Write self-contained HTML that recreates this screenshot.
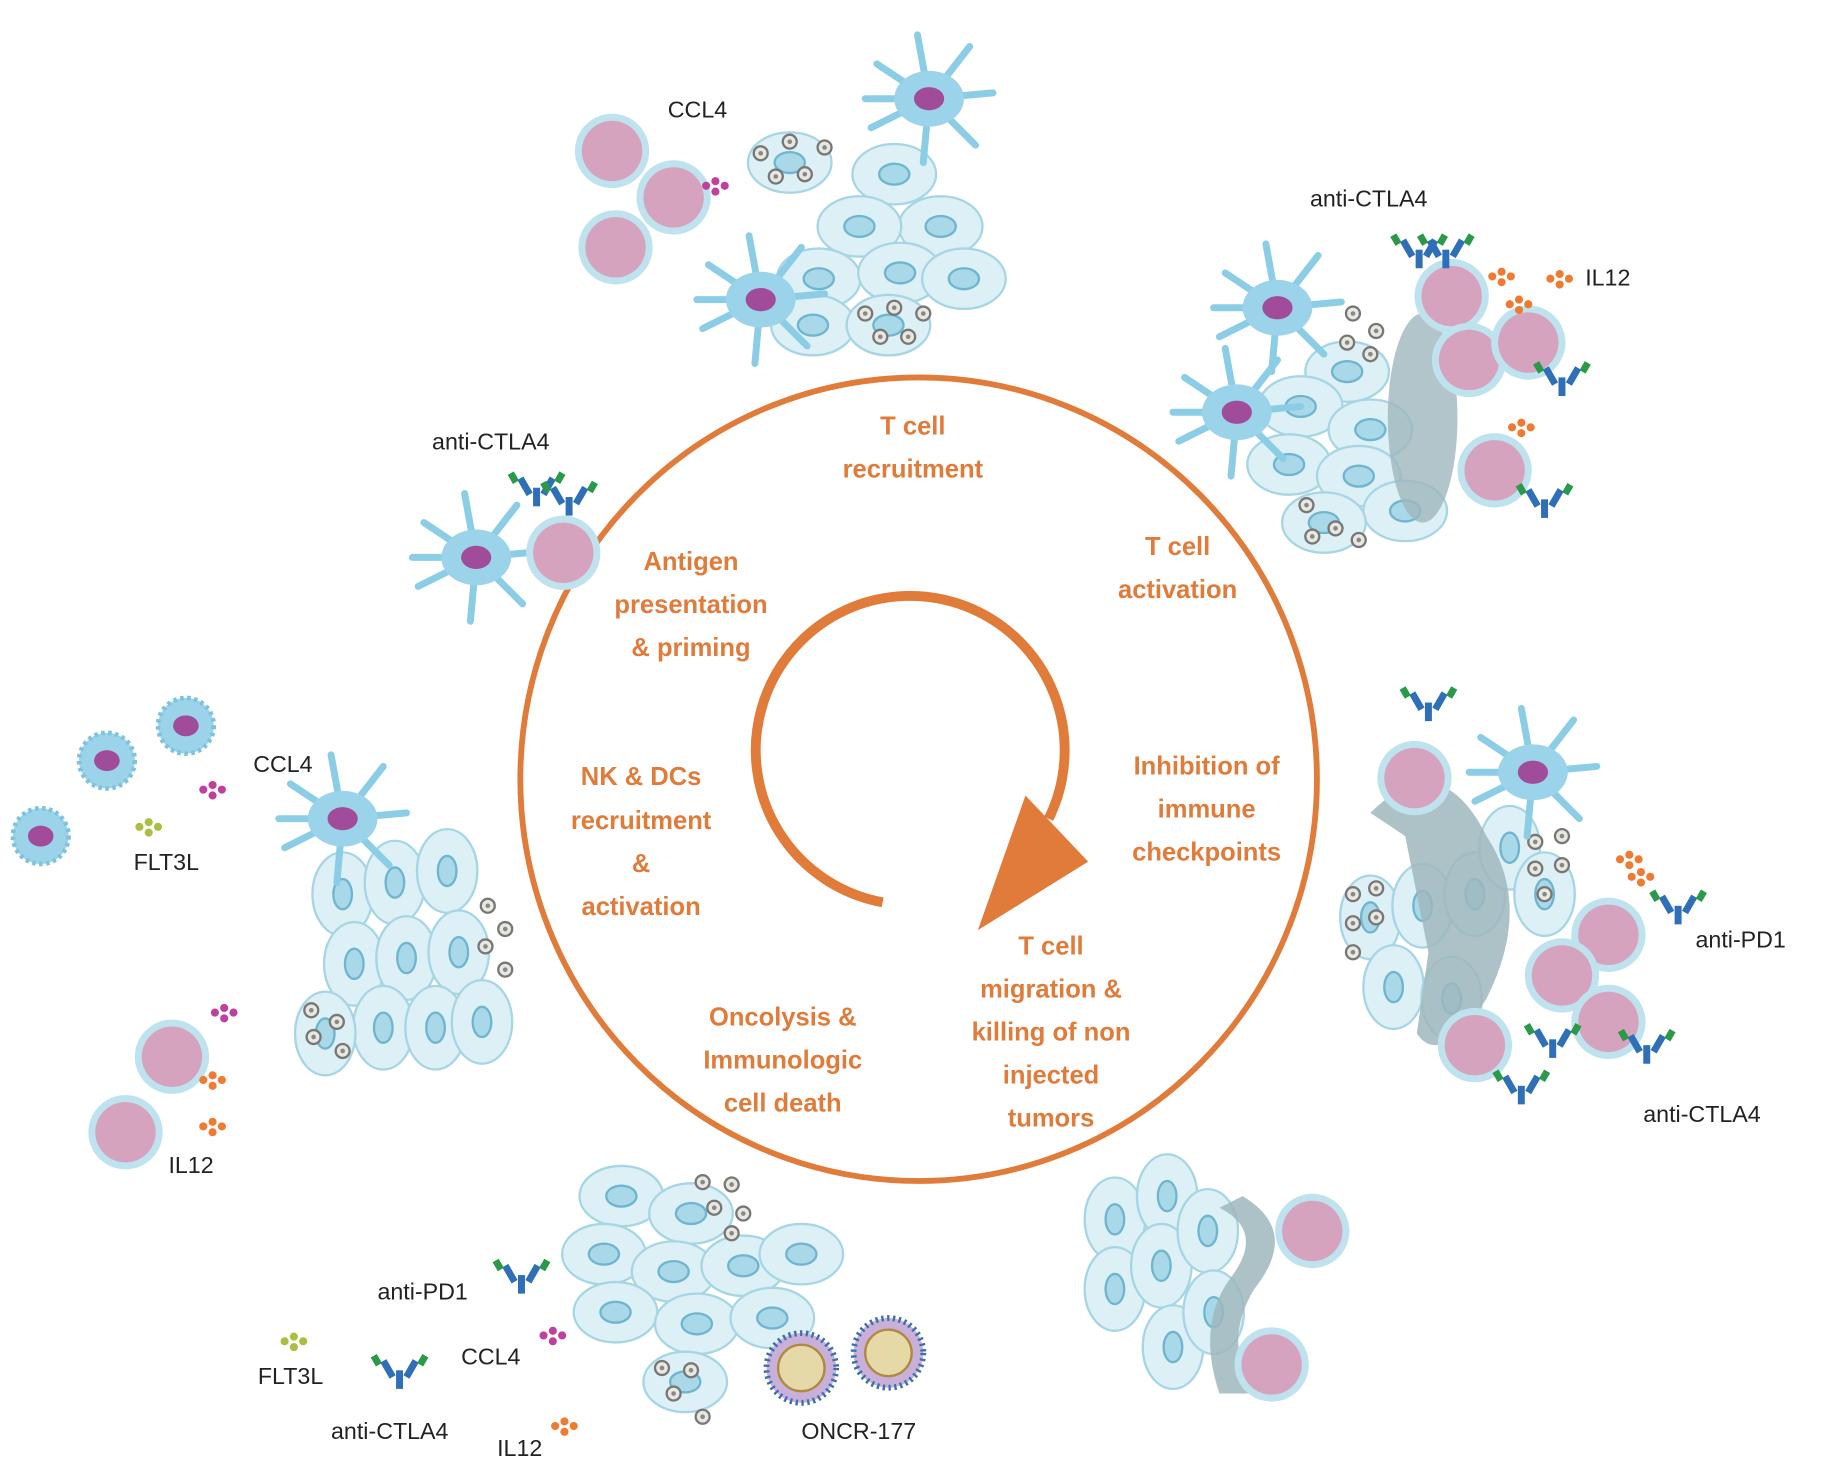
<!DOCTYPE html>
<html><head><meta charset="utf-8"><style>
html,body{margin:0;padding:0;background:#fff}
svg{display:block}
.o{fill:#e07b39;font-family:"Liberation Sans",sans-serif;font-weight:bold;font-size:22px;text-anchor:middle}
.k{fill:#222;font-family:"Liberation Sans",sans-serif;font-size:20px}
</style></head><body>
<svg width="1821" height="1469" viewBox="0 0 1568 1265" xmlns="http://www.w3.org/2000/svg">
<defs>
<g id="tc"><ellipse rx="36" ry="26" fill="#dcf0f6" stroke="#a6d5e4" stroke-width="2"/><ellipse rx="13" ry="9" fill="#a9d8e8" stroke="#6fb5cf" stroke-width="2"/></g>
<g id="tv"><ellipse rx="26" ry="36" fill="#dcf0f6" stroke="#a6d5e4" stroke-width="2"/><ellipse rx="8" ry="13" fill="#a9d8e8" stroke="#6fb5cf" stroke-width="2"/></g>
<g id="t"><circle r="32" fill="#bfe2ef"/><circle r="26" fill="#d5a3bd"/></g>
<g id="dc"><g stroke="#8ccde6" stroke-width="6" stroke-linecap="round"><line x1="0" y1="0" x2="-45" y2="-30"/><line x1="0" y1="0" x2="-10" y2="-55"/><line x1="0" y1="0" x2="35" y2="-45"/><line x1="0" y1="0" x2="55" y2="-5"/><line x1="0" y1="0" x2="40" y2="40"/><line x1="0" y1="0" x2="-5" y2="55"/><line x1="0" y1="0" x2="-50" y2="25"/><line x1="0" y1="0" x2="-55" y2="0"/></g><ellipse rx="30" ry="24" fill="#9bd3ea"/><ellipse rx="13" ry="10" fill="#a04c9a"/></g>
<g id="nk"><circle r="24" fill="#9bd3ea" stroke="#7dc2de" stroke-width="4" stroke-dasharray="3 3"/><ellipse rx="11" ry="9" fill="#a04c9a"/></g>
<g id="inf"><circle r="6" fill="#e8e8e0" stroke="#777" stroke-width="2"/><circle r="2" fill="#888"/></g>
<g id="ab"><rect x="-3" y="0" width="6" height="16" fill="#2f6fb8"/><rect x="-11" y="-14" width="6" height="16" fill="#2f6fb8" transform="rotate(-30)"/><rect x="5" y="-14" width="6" height="16" fill="#2f6fb8" transform="rotate(30)"/><rect x="-16" y="-22" width="6" height="9" fill="#2a9a4a" transform="rotate(-30)"/><rect x="10" y="-22" width="6" height="9" fill="#2a9a4a" transform="rotate(30)"/></g>
<g id="vir"><circle r="30" fill="#c8b0d8" stroke="#3c6fb0" stroke-width="5" stroke-dasharray="2 3"/><circle r="20" fill="#e6d9a8" stroke="#b08840" stroke-width="2"/></g>
<g id="dot3"><circle cx="0" cy="0" r="3.5"/><circle cx="8" cy="-4" r="3.5"/><circle cx="8" cy="5" r="3.5"/><circle cx="16" cy="0" r="3.5"/></g>
</defs>

<ellipse cx="791" cy="671" rx="343" ry="346" fill="none" stroke="#e07b39" stroke-width="5"/>
<path d="M760 777 A133 133 0 1 1 903 705" fill="none" stroke="#e07b39" stroke-width="8.5"/>
<polygon points="937,742 883,685 842,801" fill="#e07b39"/>

<text class="o" x="786" y="374">T cell</text><text class="o" x="786" y="411">recruitment</text>
<text class="o" x="1014" y="478">T cell</text><text class="o" x="1014" y="515">activation</text>
<text class="o" x="595" y="491">Antigen</text><text class="o" x="595" y="528">presentation</text><text class="o" x="595" y="565">&amp; priming</text>
<text class="o" x="1039" y="667">Inhibition of</text><text class="o" x="1039" y="704">immune</text><text class="o" x="1039" y="741">checkpoints</text>
<text class="o" x="552" y="676">NK &amp; DCs</text><text class="o" x="552" y="714">recruitment</text><text class="o" x="552" y="751">&amp;</text><text class="o" x="552" y="788">activation</text>
<text class="o" x="905" y="822">T cell</text><text class="o" x="905" y="859">migration &amp;</text><text class="o" x="905" y="896">killing of non</text><text class="o" x="905" y="933">injected</text><text class="o" x="905" y="970">tumors</text>
<text class="o" x="674" y="883">Oncolysis &amp;</text><text class="o" x="674" y="920">Immunologic</text><text class="o" x="674" y="957">cell death</text>

<!-- top cluster -->
<use href="#tc" x="680" y="140"/><use href="#tc" x="770" y="150"/><use href="#tc" x="810" y="195"/><use href="#tc" x="740" y="195"/><use href="#tc" x="705" y="240"/><use href="#tc" x="775" y="235"/><use href="#tc" x="830" y="240"/><use href="#tc" x="700" y="280"/><use href="#tc" x="765" y="280"/>
<use href="#inf" x="655" y="132"/><use href="#inf" x="680" y="122"/><use href="#inf" x="710" y="127"/><use href="#inf" x="668" y="152"/><use href="#inf" x="693" y="150"/><use href="#inf" x="745" y="270"/><use href="#inf" x="770" y="265"/><use href="#inf" x="795" y="270"/><use href="#inf" x="758" y="290"/><use href="#inf" x="782" y="290"/>
<use href="#dc" x="800" y="85"/><use href="#dc" x="655" y="258"/>
<use href="#t" x="527" y="130"/><use href="#t" x="580" y="170"/><use href="#t" x="530" y="213"/>
<use href="#dot3" x="608" y="160" fill="#c040a0"/>
<text class="k" x="575" y="101">CCL4</text>

<!-- top-right cluster -->
<use href="#tc" x="1160" y="320"/><use href="#tc" x="1120" y="350"/><use href="#tc" x="1180" y="370"/><use href="#tc" x="1110" y="400"/><use href="#tc" x="1170" y="410"/><use href="#tc" x="1210" y="440"/><use href="#tc" x="1140" y="450"/>
<ellipse cx="1225" cy="360" rx="30" ry="90" fill="#9fb7bd" opacity="0.8"/>
<use href="#inf" x="1165" y="270"/><use href="#inf" x="1185" y="285"/><use href="#inf" x="1160" y="295"/><use href="#inf" x="1180" y="305"/><use href="#inf" x="1125" y="435"/><use href="#inf" x="1150" y="455"/><use href="#inf" x="1130" y="462"/><use href="#inf" x="1170" y="465"/>
<use href="#dc" x="1100" y="265"/><use href="#dc" x="1065" y="355"/>
<use href="#t" x="1250" y="255"/><use href="#t" x="1265" y="310"/><use href="#t" x="1316" y="295"/><use href="#t" x="1287" y="405"/>
<use href="#ab" x="1222" y="215"/><use href="#ab" x="1245" y="215"/><use href="#ab" x="1345" y="325"/><use href="#ab" x="1330" y="430"/>
<use href="#dot3" x="1285" y="238" fill="#f07a30"/><use href="#dot3" x="1335" y="240" fill="#f07a30"/><use href="#dot3" x="1300" y="262" fill="#f07a30"/><use href="#dot3" x="1302" y="368" fill="#f07a30"/>
<text class="k" x="1128" y="178">anti-CTLA4</text><text class="k" x="1365" y="246">IL12</text>

<!-- upper-left DC -->
<use href="#dc" x="410" y="480"/><use href="#t" x="485" y="476"/>
<use href="#ab" x="462" y="420"/><use href="#ab" x="490" y="428"/>
<text class="k" x="372" y="387">anti-CTLA4</text>

<!-- left cluster -->
<use href="#nk" x="92" y="655"/><use href="#nk" x="160" y="625"/><use href="#nk" x="35" y="720"/>
<use href="#dot3" x="175" y="680" fill="#c040a0"/><use href="#dot3" x="120" y="712" fill="#a8c040"/><use href="#dot3" x="185" y="872" fill="#c040a0"/>
<text class="k" x="218" y="665">CCL4</text><text class="k" x="115" y="749">FLT3L</text>
<use href="#tv" x="295" y="770"/><use href="#tv" x="340" y="760"/><use href="#tv" x="385" y="750"/><use href="#tv" x="305" y="830"/><use href="#tv" x="350" y="825"/><use href="#tv" x="395" y="820"/><use href="#tv" x="330" y="885"/><use href="#tv" x="375" y="885"/><use href="#tv" x="415" y="880"/><use href="#tv" x="280" y="890"/>
<use href="#inf" x="420" y="780"/><use href="#inf" x="435" y="800"/><use href="#inf" x="418" y="815"/><use href="#inf" x="435" y="835"/><use href="#inf" x="268" y="870"/><use href="#inf" x="290" y="880"/><use href="#inf" x="270" y="893"/><use href="#inf" x="295" y="905"/>
<use href="#dc" x="295" y="705"/>
<use href="#t" x="148" y="910"/><use href="#t" x="108" y="975"/>
<use href="#dot3" x="175" y="930" fill="#f07a30"/><use href="#dot3" x="175" y="970" fill="#f07a30"/>
<text class="k" x="145" y="1010">IL12</text>

<!-- right cluster -->
<use href="#tv" x="1180" y="790"/><use href="#tv" x="1225" y="780"/><use href="#tv" x="1270" y="770"/><use href="#tv" x="1200" y="850"/><use href="#tv" x="1250" y="860"/><use href="#tv" x="1300" y="730"/><use href="#tv" x="1330" y="770"/>
<path d="M1180 700 Q1240 640 1280 720 Q1320 780 1280 860 Q1240 920 1220 890 L1230 820 L1210 720Z" fill="#9fb7bd" opacity="0.85"/>
<use href="#inf" x="1165" y="770"/><use href="#inf" x="1185" y="765"/><use href="#inf" x="1165" y="795"/><use href="#inf" x="1185" y="790"/><use href="#inf" x="1165" y="820"/><use href="#inf" x="1322" y="725"/><use href="#inf" x="1345" y="720"/><use href="#inf" x="1322" y="748"/><use href="#inf" x="1345" y="745"/><use href="#inf" x="1330" y="770"/>
<use href="#dc" x="1320" y="665"/>
<use href="#t" x="1218" y="670"/><use href="#t" x="1385" y="805"/><use href="#t" x="1345" y="840"/><use href="#t" x="1385" y="880"/><use href="#t" x="1270" y="900"/>
<use href="#ab" x="1230" y="605"/><use href="#ab" x="1445" y="780"/><use href="#ab" x="1337" y="895"/><use href="#ab" x="1310" y="935"/><use href="#ab" x="1418" y="900"/>
<use href="#dot3" x="1395" y="740" fill="#f07a30"/><use href="#dot3" x="1405" y="755" fill="#f07a30"/>
<text class="k" x="1460" y="816">anti-PD1</text><text class="k" x="1415" y="966">anti-CTLA4</text>

<!-- bottom-right cluster -->
<use href="#tv" x="960" y="1050"/><use href="#tv" x="1005" y="1030"/><use href="#tv" x="960" y="1110"/><use href="#tv" x="1000" y="1090"/><use href="#tv" x="1040" y="1060"/><use href="#tv" x="1010" y="1160"/><use href="#tv" x="1045" y="1130"/>
<path d="M1070 1030 Q1120 1060 1080 1110 Q1050 1160 1085 1200 L1050 1200 Q1030 1140 1060 1100 Q1090 1060 1050 1040Z" fill="#9fb7bd" opacity="0.85"/>
<use href="#t" x="1130" y="1060"/><use href="#t" x="1095" y="1175"/>

<!-- bottom cluster -->
<use href="#tc" x="535" y="1030"/><use href="#tc" x="595" y="1045"/><use href="#tc" x="520" y="1080"/><use href="#tc" x="580" y="1095"/><use href="#tc" x="640" y="1090"/><use href="#tc" x="690" y="1080"/><use href="#tc" x="530" y="1130"/><use href="#tc" x="600" y="1140"/><use href="#tc" x="665" y="1135"/><use href="#tc" x="590" y="1190"/>
<use href="#inf" x="605" y="1018"/><use href="#inf" x="630" y="1020"/><use href="#inf" x="615" y="1040"/><use href="#inf" x="640" y="1045"/><use href="#inf" x="630" y="1062"/><use href="#inf" x="570" y="1178"/><use href="#inf" x="595" y="1180"/><use href="#inf" x="580" y="1200"/><use href="#inf" x="605" y="1220"/>
<use href="#vir" x="690" y="1178"/><use href="#vir" x="765" y="1165"/>
<use href="#ab" x="449" y="1098"/><use href="#ab" x="344" y="1180"/>
<use href="#dot3" x="468" y="1150" fill="#c040a0"/><use href="#dot3" x="245" y="1155" fill="#a8c040"/><use href="#dot3" x="478" y="1228" fill="#f07a30"/>
<text class="k" x="325" y="1119">anti-PD1</text><text class="k" x="222" y="1192">FLT3L</text><text class="k" x="397" y="1175">CCL4</text><text class="k" x="285" y="1239">anti-CTLA4</text><text class="k" x="428" y="1254">IL12</text><text class="k" x="690" y="1239">ONCR-177</text>
</svg>
</body></html>
